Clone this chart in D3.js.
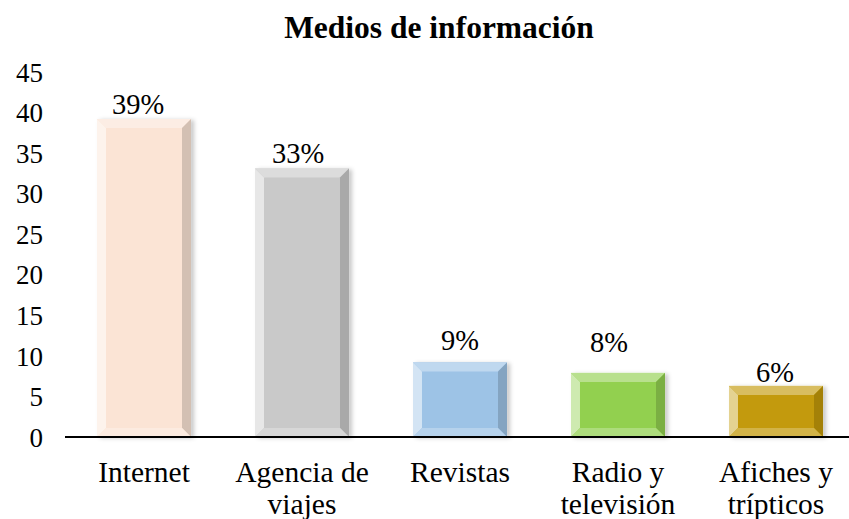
<!DOCTYPE html>
<html>
<head>
<meta charset="utf-8">
<script src="https://cdn.jsdelivr.net/npm/d3@7"></script>
<style>
  html, body { margin: 0; padding: 0; background: #fff; }
  svg { display: block; }
</style>
</head>
<body>
<svg id="chart" width="849" height="519"></svg>
<script>
// ---- data ----
const categories = ["Internet", "Agencia de viajes", "Revistas", "Radio y televisión", "Afiches y trípticos"];
const categoryLines = [["Internet"], ["Agencia de", "viajes"], ["Revistas"], ["Radio y", "televisión"], ["Afiches y", "trípticos"]];
const values = [39.2, 33.1, 9.2, 7.9, 6.3];
const valueLabels = ["39%", "33%", "9%", "8%", "6%"];
const yTicks = [0, 5, 10, 15, 20, 25, 30, 35, 40, 45];
const colors = ["#fbe4d5", "#c9c9c9", "#9dc3e6", "#92d050", "#c39a0a"];
// label placement tweaks (layout, px)
const labelDx = [-6, -4, 0, -9, -1];
const labelDy = [2, 1, -5, -14, 3];

const title = "Medios de información";
const FONT = '"Liberation Serif", "Times New Roman", serif';

const svg = d3.select("#chart");
const mLeft = 65, mRight = 855, mTop = 72, mBottom = 437;

const x = d3.scaleBand().domain(categories).range([mLeft, mRight]).paddingInner(0.405).paddingOuter(0.2025);
const y = d3.scaleLinear().domain([0, 45]).range([mBottom, mTop]);

// shadow filter
const defs = svg.append("defs");
const f = defs.append("filter").attr("id", "shadow").attr("x", "-20%").attr("y", "-20%").attr("width", "150%").attr("height", "150%");
f.append("feDropShadow").attr("dx", 3).attr("dy", 1).attr("stdDeviation", 2).attr("flood-color", "#000").attr("flood-opacity", 0.22);

// title
svg.append("text").attr("x", 439).attr("y", 38).attr("text-anchor", "middle")
  .style("font-family", FONT).style("font-size", "31.5px").style("font-weight", "bold").attr("fill", "#000").text(title);

// y axis labels
const yAxis = d3.axisLeft(y).tickValues(yTicks).tickSize(0).tickPadding(0).tickFormat(d3.format("d"));
const ya = svg.append("g").attr("transform", "translate(43,0)").call(yAxis);
ya.select(".domain").remove();
ya.selectAll("text").style("font-family", FONT).style("font-size", "27px").attr("dy", "0.34em").attr("fill", "#000");

// bars
const bars = svg.append("g");
values.forEach((v, i) => {
  const c = categories[i];
  const x0 = x(c), x1 = x(c) + x.bandwidth();
  const y0 = y(v), y1 = y(0);
  const b = Math.min(9, (y1 - y0) / 3);
  const base = d3.color(colors[i]);
  const g = bars.append("g");
  g.append("rect").attr("x", x0).attr("y", y0).attr("width", x1 - x0).attr("height", y1 - y0)
    .attr("fill", base.formatHex()).attr("filter", "url(#shadow)");
  const light = d3.interpolateRgb(base, "#ffffff")(0.35);
  const lighter = d3.interpolateRgb(base, "#ffffff")(0.55);
  const dark = d3.interpolateRgb(base, "#000000")(0.16);
  const darkB = d3.interpolateRgb(base, "#ffffff")(0.25);
  const poly = (pts, fill) => g.append("polygon").attr("points", pts.map(p => p.join(",")).join(" ")).attr("fill", fill);
  poly([[x0, y0], [x1, y0], [x1 - b, y0 + b], [x0 + b, y0 + b]], light);
  poly([[x0, y0], [x0 + b, y0 + b], [x0 + b, y1 - b], [x0, y1]], lighter);
  poly([[x1, y0], [x1, y1], [x1 - b, y1 - b], [x1 - b, y0 + b]], dark);
  poly([[x0, y1], [x0 + b, y1 - b], [x1 - b, y1 - b], [x1, y1]], darkB);
});

// value labels
svg.append("g").selectAll("text").data(values).join("text")
  .attr("x", (d, i) => x(categories[i]) + x.bandwidth() / 2 + labelDx[i])
  .attr("y", (d, i) => y(d) - 7 + labelDy[i])
  .attr("text-anchor", "middle").style("font-family", FONT).style("font-size", "28.5px").attr("fill", "#000")
  .text((d, i) => valueLabels[i]);

// x axis line
svg.append("line").attr("x1", mLeft).attr("x2", mRight).attr("y1", mBottom).attr("y2", mBottom)
  .attr("stroke", "#000").attr("stroke-width", 2);

// category labels
const xl = svg.append("g");
categories.forEach((c, i) => {
  const t = xl.append("text").attr("x", x(c) + x.bandwidth() / 2).attr("y", 482)
    .attr("text-anchor", "middle").style("font-family", FONT).style("font-size", "29.5px").attr("fill", "#000");
  categoryLines[i].forEach((ln, j) => {
    t.append("tspan").attr("x", x(c) + x.bandwidth() / 2).attr("dy", j === 0 ? 0 : 32).text(ln);
  });
});
</script>
</body>
</html>
